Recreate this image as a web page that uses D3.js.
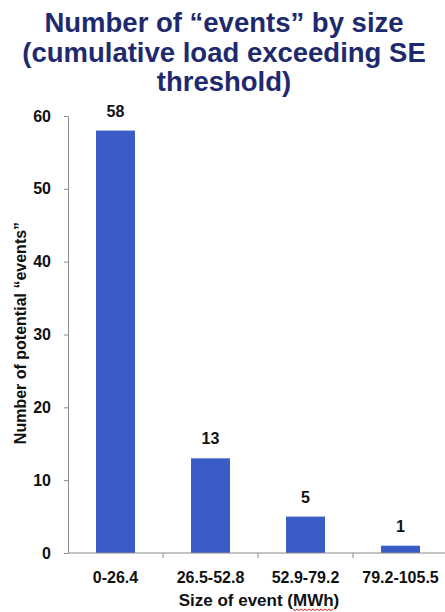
<!DOCTYPE html>
<html>
<head>
<meta charset="utf-8">
<script src="https://cdn.jsdelivr.net/npm/d3@7"></script>
<style>
  html, body { margin: 0; padding: 0; background: #fff; }
  svg { display: block; }
  text { font-family: "Liberation Sans", Arial, Helvetica, sans-serif; font-weight: bold; }
</style>
</head>
<body>
<svg id="chart" width="445" height="612"></svg>
<script>
// Event counts per size bin (MWh)
const categories = ["0-26.4", "26.5-52.8", "52.9-79.2", "79.2-105.5"];
const counts = [58, 13, 5, 1];
const yTicks = [0, 10, 20, 30, 40, 50, 60];
const titleLines = ["Number of \u201cevents\u201d by size", "(cumulative load exceeding SE", "threshold)"];

const svg = d3.select("#chart");
const margin = { left: 68, top: 116, bottom: 553 };

const x = d3.scaleBand()
  .domain(categories)
  .range([margin.left, 448])
  .paddingInner(0.59)
  .paddingOuter(0.295);

const y = d3.scaleLinear().domain([0, 60]).range([margin.bottom, margin.top]);

// Title
svg.append("g").selectAll("text")
  .data(titleLines)
  .join("text")
  .attr("x", 224)
  .attr("y", (d, i) => 32 + i * 29.5)
  .attr("text-anchor", "middle")
  .attr("font-size", 27.5)
  .attr("fill", "#1f2a6e")
  .text(d => d);

// Bars
svg.append("g").selectAll("rect")
  .data(counts)
  .join("rect")
  .attr("x", (d, i) => x(categories[i]))
  .attr("width", x.bandwidth())
  .attr("y", d => y(d))
  .attr("height", d => y(0) - y(d))
  .attr("fill", "#3a5cc6");

// Value labels
svg.append("g").selectAll("text")
  .data(counts)
  .join("text")
  .attr("x", (d, i) => x(categories[i]) + x.bandwidth() / 2)
  .attr("y", d => y(d) - 14)
  .attr("text-anchor", "middle")
  .attr("font-size", 16)
  .attr("fill", "#111")
  .text(d => d);

// Y axis
const yAxis = svg.append("g")
  .attr("transform", `translate(${margin.left},0)`)
  .call(d3.axisLeft(y).tickValues(yTicks).tickSize(4).tickSizeOuter(0).tickPadding(13));
yAxis.select(".domain").attr("stroke", "#8a8a8a");
yAxis.selectAll(".tick line").attr("stroke", "#8a8a8a");
yAxis.selectAll(".tick text")
  .attr("font-size", 16)
  .attr("font-family", "'Liberation Sans', Arial, sans-serif")
  .attr("font-weight", "bold")
  .attr("fill", "#111");

// X axis with boundary ticks between categories
const xAxis = svg.append("g")
  .attr("transform", `translate(0,${margin.bottom})`);
xAxis.append("line")
  .attr("x1", margin.left).attr("x2", 445)
  .attr("stroke", "#8a8a8a");
const step = x.step();
xAxis.selectAll(".bound")
  .data(categories.slice(1))
  .join("line")
  .attr("class", "bound")
  .attr("x1", d => x(d) - x.paddingInner() * step / 2)
  .attr("x2", d => x(d) - x.paddingInner() * step / 2)
  .attr("y1", 0).attr("y2", 5)
  .attr("stroke", "#8a8a8a");
xAxis.selectAll(".cat")
  .data(categories)
  .join("text")
  .attr("class", "cat")
  .attr("x", d => x(d) + x.bandwidth() / 2)
  .attr("y", 30)
  .attr("text-anchor", "middle")
  .attr("font-size", 16)
  .attr("fill", "#111")
  .text(d => d);

// Axis titles
svg.append("text")
  .attr("transform", "translate(26,333) rotate(-90)")
  .attr("text-anchor", "middle")
  .attr("font-size", 16)
  .attr("fill", "#111")
  .text("Number of potential \u201cevents\u201d");

const xTitle = svg.append("text")
  .attr("x", 259)
  .attr("y", 606)
  .attr("text-anchor", "middle")
  .attr("font-size", 17)
  .attr("fill", "#111");
xTitle.append("tspan").text("Size of event (");
const mwh = xTitle.append("tspan").text("MWh");
xTitle.append("tspan").text(")");

// Spell-check squiggle under "MWh"
const bb = mwh.node().getExtentOfChar(0);
const endBox = mwh.node().getExtentOfChar(2);
const sx = bb.x, ex = endBox.x + endBox.width;
const sq = [];
for (let px = sx, k = 0; px <= ex; px += 2, k++) sq.push([px, 609 + (k % 2 ? 1.5 : 0)]);
svg.append("path")
  .attr("d", d3.line()(sq))
  .attr("fill", "none")
  .attr("stroke", "#d02020")
  .attr("stroke-width", 1);
</script>
</body>
</html>
